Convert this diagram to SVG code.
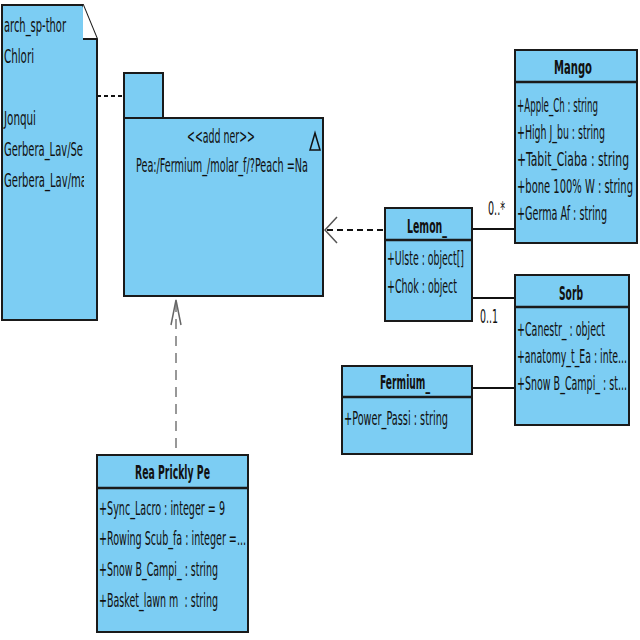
<svg xmlns="http://www.w3.org/2000/svg" width="640" height="640" viewBox="0 0 640 640">
<defs>
<style>
.box{fill:#7ccdf3;stroke:#1a1a1a;stroke-width:2}
.div{stroke:#1a1a1a;stroke-width:2.5}
.t{font-family:"DejaVu Sans Condensed","DejaVu Sans",sans-serif;font-size:19px;fill:#111}
.n{font-family:"DejaVu Sans Condensed","DejaVu Sans",sans-serif;font-size:20px;fill:#111}
.b{font-family:"DejaVu Sans Condensed","DejaVu Sans",sans-serif;font-size:20px;font-weight:bold;fill:#111}
.ln{stroke:#111;stroke-width:2;fill:none}
</style>
<clipPath id="noteclip"><rect x="2" y="5" width="82" height="320"/></clipPath>
</defs>

<g id="connectors">
<line x1="97" y1="96" x2="124" y2="96" stroke="#111" stroke-width="2" stroke-dasharray="4,3"/>
<line x1="327" y1="230" x2="385" y2="230" stroke="#111" stroke-width="2" stroke-dasharray="6,4"/>
<polyline points="337,217 325,230 337,243" fill="none" stroke="#555" stroke-width="1.5"/>
<line x1="176" y1="302" x2="176" y2="455" stroke="#777" stroke-width="1.5" stroke-dasharray="10,7"/>
<polyline points="171,325 176,300 181,325" fill="none" stroke="#666" stroke-width="1.5"/>
<line x1="472" y1="229" x2="515" y2="229" class="ln"/>
<line x1="472" y1="298" x2="515" y2="298" class="ln"/>
<line x1="472" y1="388" x2="515" y2="388" class="ln"/>
<text class="t" x="488" y="215" textLength="17" lengthAdjust="spacingAndGlyphs" font-size="16">0..*</text>
<text class="t" x="480" y="323" textLength="18" lengthAdjust="spacingAndGlyphs" font-size="16">0..1</text>
</g>

<g id="note">
<polygon points="2,5 83,5 97,39 97,320 2,320" class="box"/>
<polygon points="83,5 97,39 83,39" fill="#fff"/>
<line x1="83" y1="39" x2="97" y2="39" stroke="#1a1a1a" stroke-width="2"/>
<g clip-path="url(#noteclip)">
<text class="n" x="4" y="32" textLength="62" lengthAdjust="spacingAndGlyphs">arch_sp-thor</text>
<text class="n" x="4" y="63" textLength="30" lengthAdjust="spacingAndGlyphs">Chlori</text>
<text class="n" x="4" y="125" textLength="32" lengthAdjust="spacingAndGlyphs">Jonqui</text>
<text class="n" x="4" y="156" textLength="79" lengthAdjust="spacingAndGlyphs">Gerbera_Lav/Se</text>
<text class="n" x="4" y="187" textLength="83" lengthAdjust="spacingAndGlyphs">Gerbera_Lav/ma</text>
</g>
</g>

<g id="package">
<rect x="124" y="73" width="39" height="45" class="box"/>
<rect x="124" y="118" width="199" height="178" class="box"/>
<text class="n" x="187" y="143" textLength="68" lengthAdjust="spacingAndGlyphs">&lt;&lt;add ner&gt;&gt;</text>
<text class="n" x="136" y="172" textLength="172" lengthAdjust="spacingAndGlyphs">Pea:/Fermium_/molar_f/?Peach =Na</text>
<polygon points="315,133 310,150 320,150" fill="none" stroke="#111" stroke-width="1.5"/>
</g>

<g id="mango">
<rect x="515" y="50" width="122" height="193" class="box"/>
<line x1="515" y1="82" x2="637" y2="82" class="div"/>
<text class="b" x="554" y="74" textLength="38" lengthAdjust="spacingAndGlyphs">Mango</text>
<text class="t" x="517" y="112" textLength="81" lengthAdjust="spacingAndGlyphs">+Apple_Ch : string</text>
<text class="t" x="517" y="139" textLength="88" lengthAdjust="spacingAndGlyphs">+High J_bu : string</text>
<text class="t" x="517" y="166" textLength="112" lengthAdjust="spacingAndGlyphs">+Tabit_Ciaba : string</text>
<text class="t" x="517" y="193" textLength="116" lengthAdjust="spacingAndGlyphs">+bone 100% W : string</text>
<text class="t" x="517" y="220" textLength="90" lengthAdjust="spacingAndGlyphs">+Germa Af : string</text>
</g>

<g id="lemon">
<rect x="385" y="208" width="87" height="113" class="box"/>
<line x1="385" y1="240" x2="472" y2="240" class="div"/>
<text class="b" x="407" y="233" textLength="40" lengthAdjust="spacingAndGlyphs">Lemon_</text>
<text class="t" x="387" y="265" textLength="77" lengthAdjust="spacingAndGlyphs">+Ulste : object[]</text>
<text class="t" x="387" y="293" textLength="70" lengthAdjust="spacingAndGlyphs">+Chok : object</text>
</g>

<g id="sorb">
<rect x="515" y="275" width="114" height="150" class="box"/>
<line x1="515" y1="307" x2="629" y2="307" class="div"/>
<text class="b" x="559" y="300" textLength="24" lengthAdjust="spacingAndGlyphs">Sorb</text>
<text class="t" x="517" y="336" textLength="88" lengthAdjust="spacingAndGlyphs">+Canestr_ : object</text>
<text class="t" x="517" y="363" textLength="110" lengthAdjust="spacingAndGlyphs">+anatomy_t_Ea : inte...</text>
<text class="t" x="517" y="390" textLength="110" lengthAdjust="spacingAndGlyphs">+Snow B_Campi_ : st...</text>
</g>

<g id="fermium">
<rect x="342" y="366" width="130" height="88" class="box"/>
<line x1="342" y1="397" x2="472" y2="397" class="div"/>
<text class="b" x="380" y="389" textLength="50" lengthAdjust="spacingAndGlyphs">Fermium_</text>
<text class="t" x="344" y="425" textLength="104" lengthAdjust="spacingAndGlyphs">+Power_Passi : string</text>
</g>

<g id="rea">
<rect x="97" y="455" width="151" height="177" class="box"/>
<line x1="97" y1="488" x2="248" y2="488" class="div"/>
<text class="b" x="135" y="479" textLength="75" lengthAdjust="spacingAndGlyphs">Rea Prickly Pe</text>
<text class="t" x="99" y="515" textLength="126" lengthAdjust="spacingAndGlyphs">+Sync_Lacro : integer = 9</text>
<text class="t" x="99" y="545" textLength="147" lengthAdjust="spacingAndGlyphs">+Rowing Scub_fa : integer =...</text>
<text class="t" x="99" y="576" textLength="119" lengthAdjust="spacingAndGlyphs">+Snow B_Campi_ : string</text>
<text class="t" x="99" y="607" textLength="119" lengthAdjust="spacingAndGlyphs" xml:space="preserve">+Basket_lawn m  : string</text>
</g>
</svg>
